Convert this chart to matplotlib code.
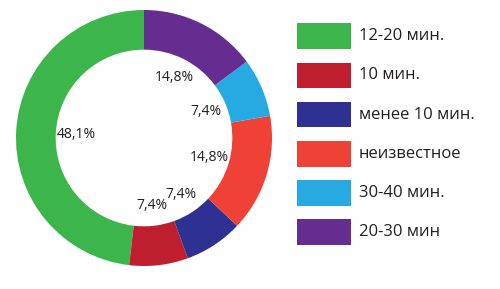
import matplotlib
matplotlib.use("Agg")
import matplotlib.pyplot as plt
from matplotlib.patches import Rectangle

labels = ["12-20 мин.", "10 мин.", "менее 10 мин.", "неизвестное", "30-40 мин.", "20-30 мин"]
shares = [48.1, 7.4, 7.4, 14.8, 7.4, 14.8]
colors = ["#3cb54a", "#be1e2d", "#2e3192", "#ef4136", "#27aae1", "#662d91"]

plt.rcParams["font.family"] = ["Open Sans", "DejaVu Sans"]

W, H = 500, 289
fig = plt.figure(figsize=(W / 100, H / 100), dpi=100)

# pie centre (144, 138) px from top-left, radius ~128 px
cx, cy, r = 144, 138, 128
ax = fig.add_axes([(cx - r) / W, (H - cy - r) / H, 2 * r / W, 2 * r / H])
wedges, texts, autotexts = ax.pie(
    shares,
    colors=colors,
    startangle=90,
    counterclock=True,
    radius=1.0,
    wedgeprops=dict(width=0.31, linewidth=0),
    autopct=lambda p: "",
    pctdistance=0.53,
)
for t, v in zip(autotexts, shares):
    t.set_text(f"{v:.1f}%".replace(".", ","))
    t.set_fontsize(10)
    t.set_color("#231f20")
ax.set_xlim(-1, 1)
ax.set_ylim(-1, 1)
ax.set_aspect("equal")
ax.axis("off")

# legend
x0, x1 = 297, 351
top0, pitch, ph = 23.3, 39.2, 25.7
for i, (lab, col) in enumerate(zip(labels, colors)):
    top = top0 + i * pitch
    fig.add_artist(Rectangle((x0 / W, (H - top - ph) / H), (x1 - x0) / W, ph / H,
                             transform=fig.transFigure, facecolor=col, edgecolor="none"))
    fig.text(359 / W, (H - top - ph / 2) / H, lab, fontsize=12, color="#231f20",
             va="center", ha="left")

fig.savefig("out.png", dpi=100)
